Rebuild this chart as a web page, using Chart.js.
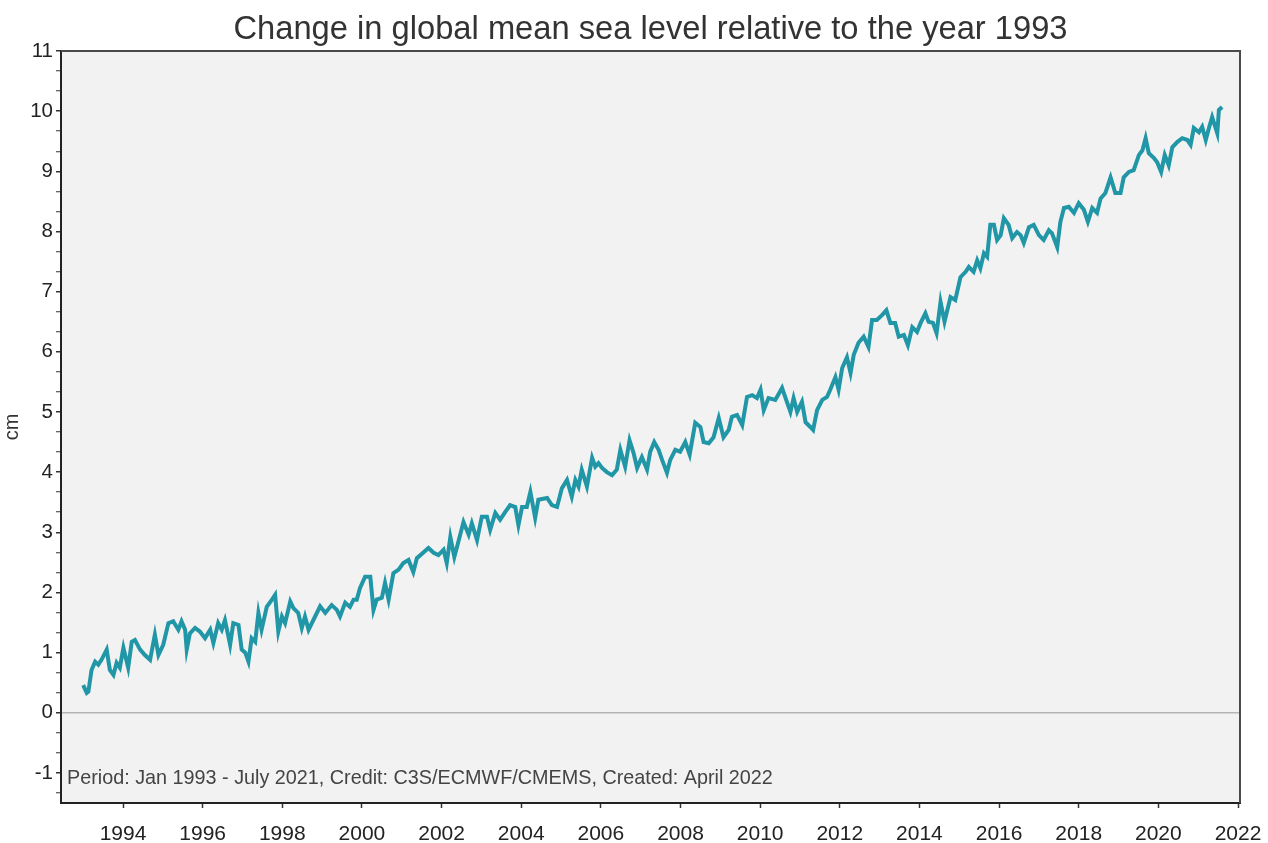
<!DOCTYPE html>
<html>
<head>
<meta charset="utf-8">
<script src="https://cdn.jsdelivr.net/npm/chart.js@4/dist/chart.umd.min.js"></script>
<style>
  body { margin: 0; background: #fff; }
  #wrap { width: 1268px; height: 843px; }
</style>
</head>
<body>
<div id="wrap"><canvas id="myChart" width="1268" height="843"></canvas></div>
<script>
// decimal year of each sample
const years = [
  1993.00, 1993.09, 1993.13, 1993.21, 1993.30, 1993.38, 1993.46, 1993.59, 1993.67, 1993.76, 1993.84, 1993.92,
  1994.01, 1994.13, 1994.22, 1994.30, 1994.43, 1994.55, 1994.68, 1994.80, 1994.89,
  1995.01, 1995.14, 1995.26, 1995.39, 1995.47, 1995.56, 1995.60, 1995.68, 1995.81, 1995.93,
  1996.06, 1996.19, 1996.27, 1996.39, 1996.48, 1996.56, 1996.69, 1996.77, 1996.90, 1996.98,
  1997.07, 1997.15, 1997.23, 1997.32, 1997.40, 1997.48, 1997.61, 1997.74, 1997.82, 1997.90, 1997.99,
  1998.07, 1998.20, 1998.28, 1998.40, 1998.49, 1998.57, 1998.66, 1998.95,
  1999.08, 1999.24, 1999.37, 1999.45, 1999.58, 1999.70, 1999.79, 1999.87, 1999.95,
  2000.08, 2000.21, 2000.29, 2000.37, 2000.50, 2000.58, 2000.67, 2000.79, 2000.92,
  2001.04, 2001.17, 2001.29, 2001.38, 2001.55, 2001.67, 2001.80, 2001.92,
  2002.05, 2002.13, 2002.22, 2002.32, 2002.42, 2002.55, 2002.68, 2002.76, 2002.89,
  2003.01, 2003.14, 2003.22, 2003.35, 2003.47, 2003.60, 2003.72, 2003.85, 2003.93,
  2004.02, 2004.14, 2004.23, 2004.35, 2004.43, 2004.65, 2004.77, 2004.90,
  2005.02, 2005.15, 2005.27, 2005.36, 2005.44, 2005.52, 2005.65, 2005.78, 2005.86, 2005.94,
  2006.03, 2006.15, 2006.28, 2006.40, 2006.49, 2006.61, 2006.72, 2006.82, 2006.91,
  2007.03, 2007.16, 2007.24, 2007.34, 2007.45, 2007.54, 2007.66, 2007.74, 2007.87, 2007.99,
  2008.12, 2008.23, 2008.37, 2008.50, 2008.58, 2008.71, 2008.83, 2008.96,
  2009.08, 2009.21, 2009.29, 2009.42, 2009.55, 2009.67, 2009.80, 2009.92,
  2010.01, 2010.09, 2010.21, 2010.38, 2010.55, 2010.68, 2010.76, 2010.84, 2010.93,
  2011.05, 2011.14, 2011.26, 2011.33, 2011.43, 2011.56, 2011.68, 2011.76, 2011.89, 2011.97,
  2012.06, 2012.18, 2012.27, 2012.35, 2012.47, 2012.60, 2012.72, 2012.81, 2012.93,
  2013.06, 2013.17, 2013.27, 2013.39, 2013.48, 2013.61, 2013.71, 2013.82, 2013.94,
  2014.03, 2014.15, 2014.23, 2014.34, 2014.43, 2014.53, 2014.63, 2014.78, 2014.90,
  2015.03, 2015.16, 2015.24, 2015.36, 2015.45, 2015.53, 2015.62, 2015.70, 2015.78, 2015.87, 2015.95,
  2016.04, 2016.12, 2016.24, 2016.33, 2016.45, 2016.54, 2016.62, 2016.75, 2016.87,
  2017.00, 2017.12, 2017.25, 2017.33, 2017.46, 2017.54, 2017.63, 2017.75, 2017.88,
  2018.00, 2018.13, 2018.23, 2018.34, 2018.46, 2018.55, 2018.67, 2018.80, 2018.92,
  2019.05, 2019.13, 2019.26, 2019.38, 2019.51, 2019.60, 2019.68, 2019.76, 2019.89, 2019.97,
  2020.07, 2020.16, 2020.26, 2020.35, 2020.48, 2020.60, 2020.73, 2020.81, 2020.89,
  2021.02, 2021.10, 2021.19, 2021.27, 2021.35, 2021.48, 2021.52, 2021.60
];

// change in global mean sea level (cm)
const seaLevel = [
  0.46, 0.33, 0.35, 0.71, 0.85, 0.80, 0.88, 1.05, 0.71, 0.63, 0.83, 0.75,
  1.08, 0.75, 1.18, 1.21, 1.05, 0.96, 0.88, 1.30, 0.96,
  1.13, 1.49, 1.52, 1.38, 1.52, 1.38, 1.05, 1.32, 1.41, 1.35,
  1.24, 1.38, 1.16, 1.49, 1.38, 1.54, 1.13, 1.49, 1.46, 1.05,
  1.00, 0.85, 1.24, 1.18, 1.66, 1.38, 1.76, 1.88, 1.96, 1.35, 1.60,
  1.49, 1.85, 1.74, 1.66, 1.41, 1.60, 1.38, 1.77,
  1.66, 1.79, 1.71, 1.60, 1.83, 1.76, 1.88, 1.88, 2.07,
  2.26, 2.26, 1.71, 1.88, 1.91, 2.16, 1.88, 2.32, 2.38,
  2.49, 2.54, 2.34, 2.57, 2.67, 2.74, 2.66, 2.62,
  2.71, 2.49, 2.92, 2.59, 2.84, 3.17, 2.96, 3.15, 2.87,
  3.26, 3.26, 3.04, 3.32, 3.21, 3.34, 3.45, 3.42, 3.12,
  3.42, 3.42, 3.67, 3.24, 3.54, 3.57, 3.45, 3.42,
  3.73, 3.87, 3.59, 3.87, 3.76, 4.04, 3.76, 4.24, 4.09, 4.15,
  4.07, 4.00, 3.95, 4.04, 4.37, 4.09, 4.53, 4.32, 4.07,
  4.25, 4.04, 4.34, 4.50, 4.37, 4.20, 3.99, 4.20, 4.37, 4.34,
  4.50, 4.29, 4.82, 4.75, 4.50, 4.48, 4.58, 4.90,
  4.58, 4.70, 4.92, 4.95, 4.78, 5.25, 5.28, 5.23,
  5.37, 5.03, 5.23, 5.20, 5.40, 5.15, 5.00, 5.23, 5.00,
  5.17, 4.83, 4.75, 4.70, 5.03, 5.20, 5.25, 5.37, 5.58, 5.37,
  5.73, 5.91, 5.65, 5.95, 6.15, 6.25, 6.08, 6.53, 6.53,
  6.61, 6.69, 6.48, 6.48, 6.25, 6.28, 6.11, 6.41, 6.33,
  6.48, 6.64, 6.50, 6.48, 6.31, 6.83, 6.50, 6.91, 6.86,
  7.24, 7.33, 7.41, 7.33, 7.52, 7.39, 7.64, 7.58, 8.11, 8.11, 7.86,
  7.94, 8.22, 8.11, 7.89, 7.99, 7.94, 7.81, 8.07, 8.11,
  7.94, 7.86, 8.02, 7.97, 7.74, 8.16, 8.39, 8.41, 8.31,
  8.47, 8.36, 8.16, 8.39, 8.31, 8.55, 8.64, 8.90, 8.64,
  8.64, 8.90, 8.99, 9.02, 9.27, 9.35, 9.55, 9.30, 9.22, 9.15,
  8.99, 9.27, 9.10, 9.40, 9.49, 9.55, 9.52, 9.44, 9.72,
  9.65, 9.74, 9.52, 9.72, 9.90, 9.63, 10.02, 10.07
];

const xTickYears = [1994, 1996, 1998, 2000, 2002, 2004, 2006, 2008, 2010, 2012, 2014, 2016, 2018, 2020, 2022];
const yTickValues = [-1, 0, 1, 2, 3, 4, 5, 6, 7, 8, 9, 10, 11];

const TITLE = 'Change in global mean sea level relative to the year 1993';
const CREDIT = 'Period: Jan 1993 - July 2021, Credit: C3S/ECMWF/CMEMS, Created: April 2022';
const FONT = "'Liberation Sans', Arial, sans-serif";
const isWhole = v => Math.abs(v - Math.round(v)) < 1e-6;

// plot background, top/right frame, title centred over the plot, credit line
const framePlugin = {
  id: 'frame',
  beforeDraw(chart) {
    const a = chart.chartArea, c = chart.ctx;
    c.save();
    c.fillStyle = '#f2f2f2';
    c.fillRect(a.left, a.top, a.right - a.left, a.bottom - a.top);
    c.restore();
  },
  afterDraw(chart) {
    const a = chart.chartArea, c = chart.ctx;
    c.save();
    c.strokeStyle = '#4a4a4a';
    c.lineWidth = 2;
    c.beginPath();
    c.moveTo(a.left, a.top);
    c.lineTo(a.right, a.top);
    c.lineTo(a.right, a.bottom);
    c.stroke();

    c.fillStyle = '#333';
    c.font = '32.7px ' + FONT;
    c.textAlign = 'center';
    c.textBaseline = 'middle';
    c.fillText(TITLE, (a.left + a.right) / 2, 30);

    c.fillStyle = '#444';
    c.font = '19.8px ' + FONT;
    c.textAlign = 'left';
    c.fillText(CREDIT, a.left + 6, a.bottom - 24);
    c.restore();
  }
};

const ctx = document.getElementById('myChart');
const myChart = new Chart(ctx, {
  type: 'line',
  data: {
    datasets: [{
      label: 'GMSL',
      data: years.map((x, i) => ({ x: x, y: seaLevel[i] })),
      borderColor: 'rgb(32, 150, 166)',
      borderWidth: 4,
      pointRadius: 0,
      tension: 0,
      fill: false
    }]
  },
  options: {
    responsive: false,
    animation: false,
    layout: { padding: { left: 0, right: 28, top: 51, bottom: 0 } },
    plugins: {
      legend: { display: false },
      tooltip: { enabled: false },
      title: { display: false }
    },
    scales: {
      x: {
        type: 'linear',
        min: 1992.443,
        max: 2022.05,
        afterBuildTicks: s => { s.ticks = xTickYears.map(v => ({ value: v })); },
        afterFit: s => { s.height = 40; s.paddingLeft = 0; s.paddingRight = 0; },
        ticks: {
          autoSkip: false,
          maxRotation: 0,
          padding: 14,
          color: '#222',
          font: { family: FONT, size: 21 },
          callback: v => String(v)
        },
        grid: { drawOnChartArea: false, tickLength: 5, tickColor: '#333', tickWidth: 1.5 },
        border: { color: '#222', width: 2 }
      },
      y: {
        min: -1.5,
        max: 11,
        afterBuildTicks: s => {
          const t = [];
          yTickValues.forEach(v => {
            t.push({ value: v });
            [1 / 3, 2 / 3].forEach(f => { if (v + f <= 11) t.push({ value: v + f }); });
          });
          t.unshift({ value: -1 - 1 / 3 });
          s.ticks = t;
        },
        afterFit: s => { s.width = 61; s.paddingTop = 0; s.paddingBottom = 0; },
        ticks: {
          autoSkip: false,
          padding: 3,
          color: '#222',
          font: { family: FONT, size: 20.5 },
          callback: v => isWhole(v) ? String(Math.round(v)) : ''
        },
        grid: {
          drawOnChartArea: true,
          tickLength: 5,
          tickColor: '#333',
          tickWidth: c => isWhole(c.tick.value) ? 1.5 : 1,
          color: c => Math.abs(c.tick.value) < 1e-6 ? '#b4b4b4' : 'rgba(0,0,0,0)',
          lineWidth: 1.5
        },
        border: { color: '#222', width: 2 },
        title: {
          display: true,
          text: 'cm',
          color: '#333',
          font: { family: FONT, size: 20 },
          padding: 0
        }
      }
    }
  },
  plugins: [framePlugin]
});
</script>
</body>
</html>
